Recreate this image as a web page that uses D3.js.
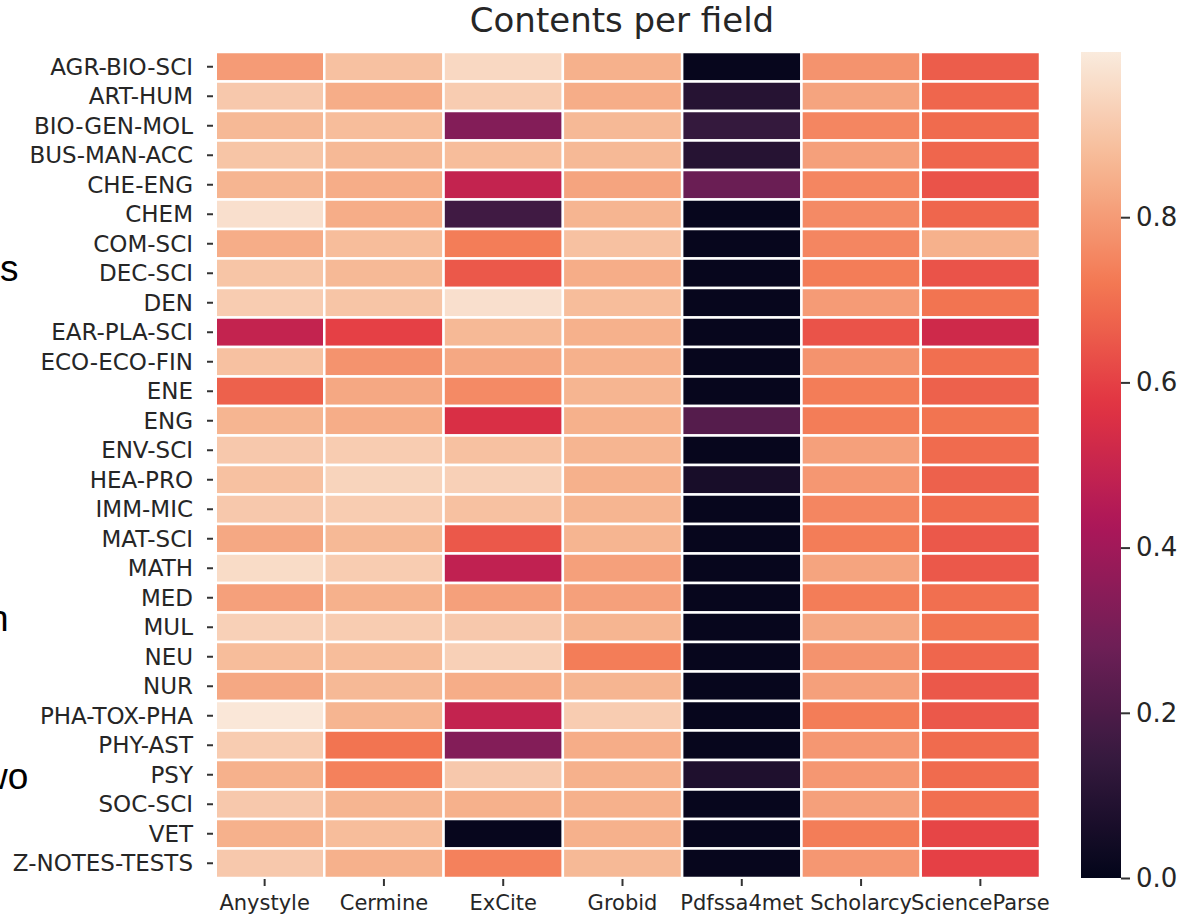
<!DOCTYPE html>
<html>
<head>
<meta charset="utf-8">
<script src="https://cdn.jsdelivr.net/npm/d3@7"></script>
<style>
  body { margin: 0; background: #fff; }
  svg text { font-family: "DejaVu Sans", sans-serif; fill: #262626; }
  .slide { font-family: "Liberation Sans", Arial, sans-serif; fill: #000; }
</style>
</head>
<body>
<svg id="chart"></svg>
<script>
'use strict';

// fields (rows)
var fields = ['AGR-BIO-SCI', 'ART-HUM', 'BIO-GEN-MOL', 'BUS-MAN-ACC', 'CHE-ENG', 'CHEM',
  'COM-SCI', 'DEC-SCI', 'DEN', 'EAR-PLA-SCI', 'ECO-ECO-FIN', 'ENE', 'ENG', 'ENV-SCI',
  'HEA-PRO', 'IMM-MIC', 'MAT-SCI', 'MATH', 'MED', 'MUL', 'NEU', 'NUR', 'PHA-TOX-PHA',
  'PHY-AST', 'PSY', 'SOC-SCI', 'VET', 'Z-NOTES-TESTS'];

// tools (columns)
var tools = ['Anystyle', 'Cermine', 'ExCite', 'Grobid', 'Pdfssa4met', 'Scholarcy', 'ScienceParse'];

// values per tool, one per field
var anystyle     = [0.80, 0.91, 0.87, 0.90, 0.86, 0.97, 0.84, 0.90, 0.92, 0.49, 0.89, 0.67, 0.86, 0.91,
                    0.89, 0.91, 0.83, 0.96, 0.81, 0.93, 0.88, 0.83, 0.99, 0.92, 0.85, 0.91, 0.85, 0.91];
var cermine      = [0.89, 0.84, 0.88, 0.87, 0.84, 0.84, 0.88, 0.87, 0.90, 0.60, 0.78, 0.83, 0.84, 0.92,
                    0.94, 0.92, 0.87, 0.92, 0.85, 0.92, 0.88, 0.87, 0.86, 0.71, 0.74, 0.86, 0.88, 0.85];
var excite       = [0.95, 0.92, 0.33, 0.88, 0.49, 0.17, 0.73, 0.65, 0.97, 0.87, 0.83, 0.76, 0.55, 0.89,
                    0.93, 0.89, 0.65, 0.48, 0.81, 0.91, 0.93, 0.84, 0.49, 0.33, 0.91, 0.85, 0.01, 0.74];
var grobid       = [0.85, 0.84, 0.87, 0.87, 0.82, 0.86, 0.89, 0.84, 0.88, 0.85, 0.85, 0.86, 0.85, 0.86,
                    0.85, 0.86, 0.86, 0.81, 0.81, 0.86, 0.73, 0.86, 0.92, 0.84, 0.85, 0.85, 0.85, 0.87];
var pdfssa4met   = [0.01, 0.10, 0.14, 0.10, 0.27, 0.01, 0.01, 0.01, 0.01, 0.01, 0.01, 0.01, 0.22, 0.01,
                    0.06, 0.01, 0.01, 0.01, 0.01, 0.01, 0.01, 0.01, 0.01, 0.01, 0.08, 0.01, 0.01, 0.01];
var scholarcy    = [0.78, 0.82, 0.75, 0.81, 0.75, 0.76, 0.75, 0.73, 0.80, 0.64, 0.78, 0.73, 0.73, 0.81,
                    0.79, 0.75, 0.73, 0.82, 0.73, 0.83, 0.78, 0.81, 0.73, 0.79, 0.79, 0.81, 0.73, 0.79];
var scienceparse = [0.66, 0.68, 0.69, 0.68, 0.64, 0.68, 0.85, 0.64, 0.71, 0.52, 0.70, 0.67, 0.71, 0.69,
                    0.67, 0.69, 0.65, 0.65, 0.70, 0.71, 0.68, 0.65, 0.65, 0.69, 0.69, 0.70, 0.61, 0.60];

var colorTicks = [0, 0.2, 0.4, 0.6, 0.8];

// seaborn "rocket" colormap, sampled
var rocketStops = [0, 1 / 7, 2 / 7, 3 / 7, 4 / 7, 5 / 7, 6 / 7, 1];
var rocketColors = ['#03051a', '#35193e', '#701f57', '#ad1759', '#e13342', '#f37651', '#f6b48f', '#faebdd'];

var columns = [anystyle, cermine, excite, grobid, pdfssa4met, scholarcy, scienceparse];
var cells = [];
tools.forEach(function(t, i) {
  fields.forEach(function(f, j) {
    cells.push({tool: t, field: f, value: columns[i][j]});
  });
});

var canvasWidth = 1204;
var canvasHeight = 918;
var svg = d3.select('#chart')
  .attr('width', canvasWidth)
  .attr('height', canvasHeight);

var color = d3.scaleLinear()
  .domain(rocketStops)
  .range(rocketColors)
  .interpolate(d3.interpolateRgb)
  .clamp(true);

var xScale = d3.scaleBand().domain(tools).range([205, 1040]);
var yScale = d3.scaleBand().domain(fields).range([52, 878]);

// left strip of the first column is hidden in the picture
svg.append('clipPath').attr('id', 'cellclip')
  .append('rect')
  .attr('x', 217).attr('y', 0)
  .attr('width', canvasWidth).attr('height', canvasHeight);

svg.append('g')
  .attr('clip-path', 'url(#cellclip)')
  .selectAll('rect')
  .data(cells)
  .enter()
  .append('rect')
    .attr('x', function(d) { return xScale(d.tool); })
    .attr('y', function(d) { return yScale(d.field); })
    .attr('width', xScale.bandwidth())
    .attr('height', yScale.bandwidth())
    .attr('fill', function(d) { return color(d.value); })
    .attr('stroke', '#fff')
    .attr('stroke-width', 2.5);

// y labels
var yAxis = svg.append('g')
  .attr('transform', 'translate(213,0)')
  .call(d3.axisLeft(yScale).tickSize(6).tickPadding(14));
yAxis.select('.domain').remove();
yAxis.selectAll('line').attr('stroke', '#333').attr('stroke-width', 2);
yAxis.selectAll('text').style('font-size', '23px').attr('dy', '0.35em');

// x labels
var xAxis = svg.append('g')
  .attr('transform', 'translate(0,879)')
  .call(d3.axisBottom(xScale).tickSize(7).tickPadding(9));
xAxis.select('.domain').remove();
xAxis.selectAll('line').attr('stroke', '#333').attr('stroke-width', 2);
xAxis.selectAll('text').style('font-size', '21px');

// title
svg.append('text')
  .attr('x', 622)
  .attr('y', 32)
  .attr('text-anchor', 'middle')
  .style('font-size', '34px')
  .text('Contents per field');

// colorbar
var cbScale = d3.scaleLinear().domain([0, 1]).range([878, 52]);
var grad = svg.append('defs').append('linearGradient')
  .attr('id', 'rocket')
  .attr('x1', 0).attr('y1', 1).attr('x2', 0).attr('y2', 0);
d3.range(0, 1.0001, 0.02).forEach(function(t) {
  grad.append('stop')
    .attr('offset', t)
    .attr('stop-color', color(t));
});
svg.append('rect')
  .attr('x', 1081)
  .attr('y', cbScale(1))
  .attr('width', 40)
  .attr('height', cbScale(0) - cbScale(1))
  .attr('fill', 'url(#rocket)');

var cbAxis = svg.append('g')
  .attr('transform', 'translate(1121,0)')
  .call(d3.axisRight(cbScale).tickValues(colorTicks).tickFormat(d3.format('.1f'))
    .tickSize(9).tickPadding(6));
cbAxis.select('.domain').remove();
cbAxis.selectAll('line').attr('stroke', '#333').attr('stroke-width', 2);
cbAxis.selectAll('text').style('font-size', '26px');

// fragments of slide text cut off on the left, as in the picture
svg.append('text').attr('class', 'slide').attr('x', 0).attr('y', 281).style('font-size', '37px').text('s');
svg.append('text').attr('class', 'slide').attr('x', -12).attr('y', 631).style('font-size', '37px').text('n');
svg.append('text').attr('class', 'slide').attr('x', -19).attr('y', 789).style('font-size', '37px').text('wo');
</script>
</body>
</html>
